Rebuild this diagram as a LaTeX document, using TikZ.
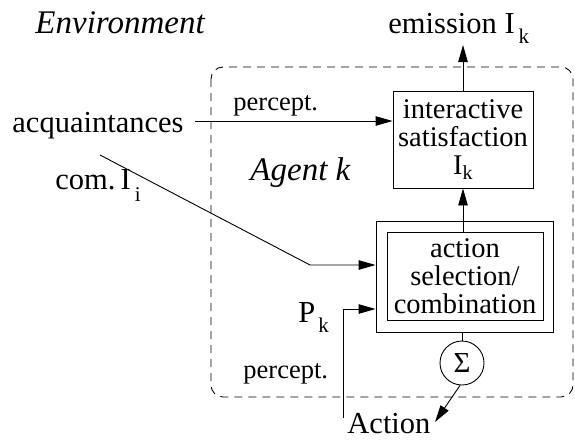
\documentclass[tikz,border=0pt]{standalone}
\usepackage{fontspec}
\setmainfont{Liberation Serif}
\usetikzlibrary{arrows.meta}
\newcommand\bigf{\fontsize{30.5}{33}\selectfont}
\newcommand\itf{\fontsize{33}{35}\selectfont\itshape}
\newcommand\boxf{\fontsize{28.5}{28}\selectfont}
\newcommand\smf{\fontsize{26.5}{28}\selectfont}
\newcommand\subf{\fontsize{21}{21}\selectfont}
\begin{document}
\begin{tikzpicture}[x=1pt,y=-1pt,
  line width=0.9pt,
  arr/.style={-{Triangle[length=17pt,width=9.5pt]}},
  boxnode/.style={draw,inner sep=0pt,align=center,font=\boxf},
  lbl/.style={inner sep=0pt,anchor=base west},
  agentbox/.style={draw,dash pattern=on 8pt off 6pt,rounded corners=12pt}]
\useasboundingbox (0,0) rectangle (575,440);
% agent boundary
\draw[agentbox] (211,67) rectangle (573,397);
% boxes
\node[boxnode,minimum width=140pt,minimum height=97pt] (sat) at (463,139.5)
  {interactive\\satisfaction\\I\textsubscript{k}};
\node[draw,inner sep=0pt,minimum width=177pt,minimum height=111pt] (outer) at (464.5,276.5) {};
\node[boxnode,minimum width=156pt,minimum height=88pt] (sel) at (465,276)
  {action\\selection/\\combination};
\node[draw,circle,inner sep=0pt,minimum size=44pt,font=\fontsize{29}{29}\selectfont] (sig) at (462,363) {Σ};
% labels
\node[lbl,font=\itf] (env) at (35,33) {Environment};
\node[lbl,font=\bigf] (emi) at (388,33) {emission I\hspace{4pt}\raisebox{-10pt}{\subf k}};
\node[lbl,font=\bigf] (acq) at (12,132) {acquaintances};
\node[lbl,font=\bigf] (com) at (55,189) {com.\,I\hspace{4pt}\raisebox{-12pt}{\subf i}};
\node[lbl,font=\smf] (pc1) at (233,110) {percept.};
\node[lbl,font=\itf] (agk) at (250,180) {Agent k};
\node[lbl,font=\bigf] (pk) at (298,322) {P\hspace{3pt}\raisebox{-10pt}{\subf k}};
\node[lbl,font=\smf] (pc2) at (243,378) {percept.};
\node[lbl,font=\bigf] (act) at (347,433) {Action};
% coordinates
\coordinate (pin) at (195,121);
\coordinate (cstart) at (100,155);
\coordinate (cbend) at (310,265);
\coordinate (pstart) at (343,418);
\coordinate (pbend) at (343,309);
\coordinate (emend) at (463,45);
\coordinate (actend) at (435,422);
% connectors
\draw[arr] (pin) -- (pin -| sat.west);
\draw[arr] (cstart) -- (cbend) -- (cbend -| outer.west);
\draw[arr] (pstart) -- (pbend) -- (pbend -| outer.west);
\draw[arr] (sel.north -| sat.south) -- (sat.south);
\draw[arr] (sat.north) -- (emend);
\draw (outer.south -| sig.north) -- (sig.north);
\draw[arr] (sig.-95) -- (actend);
\end{tikzpicture}
\end{document}
